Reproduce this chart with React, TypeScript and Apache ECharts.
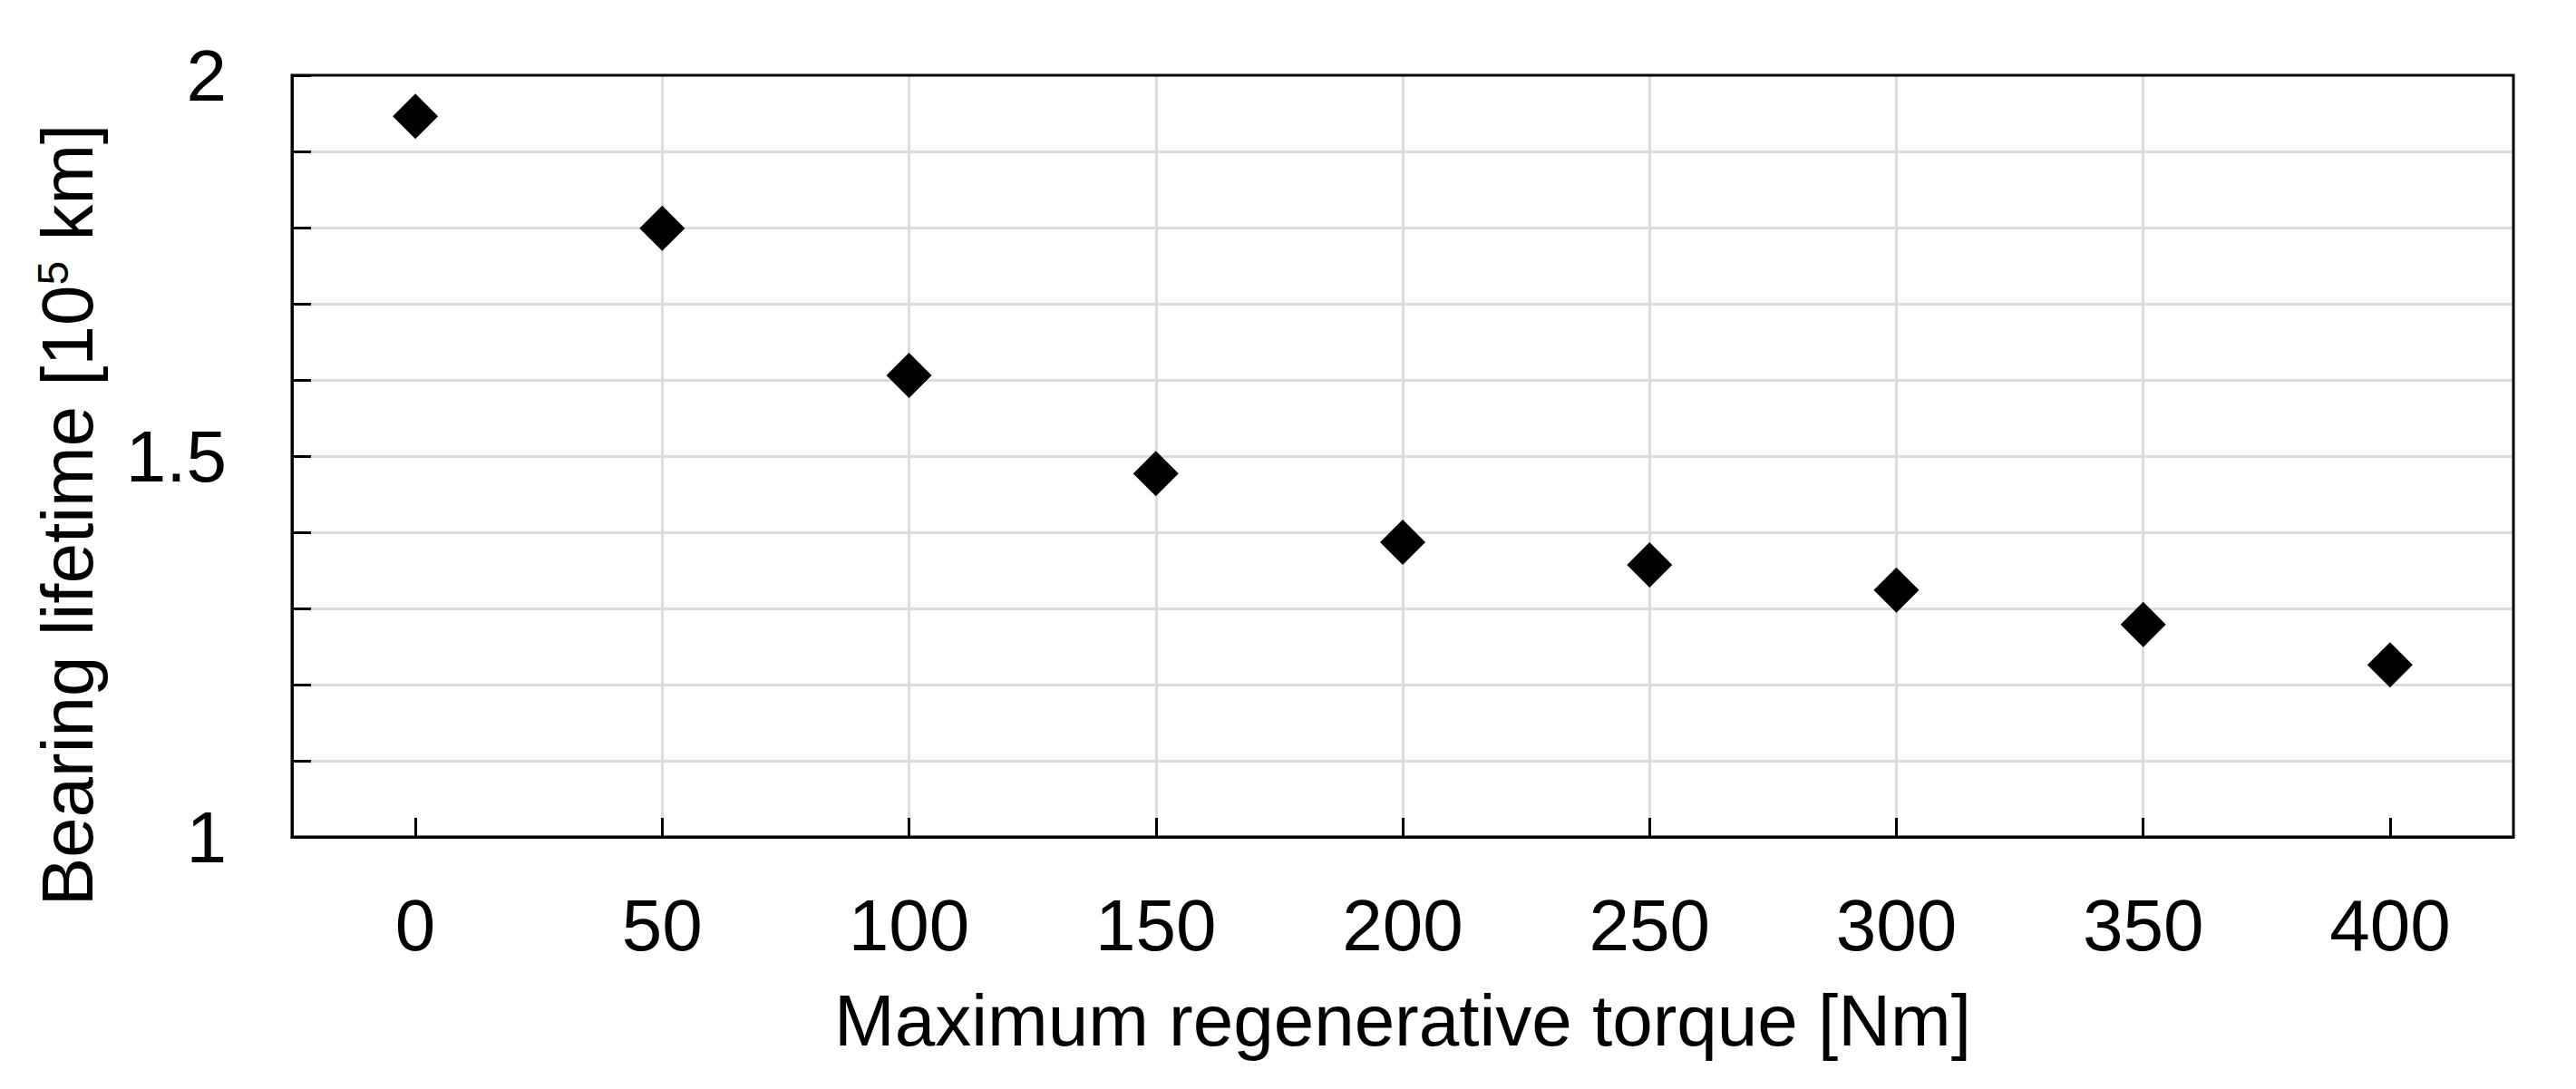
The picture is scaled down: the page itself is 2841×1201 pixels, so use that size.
import React, { useEffect, useRef } from "react";
import * as echarts from "echarts";

const torque = [0, 50, 100, 150, 200, 250, 300, 350, 400];
const lifetime = [1.946, 1.799, 1.606, 1.477, 1.387, 1.357, 1.324, 1.279, 1.226];
const xTickValues = [0, 50, 100, 150, 200, 250, 300, 350, 400];
const yLabelValues = [1, 1.5, 2];

const FONT = '"Liberation Sans", Arial, sans-serif';

export default function App() {
  const ref = useRef<HTMLDivElement>(null);
  useEffect(() => {
    if (!ref.current) return;
    const chart = echarts.init(ref.current, null, { renderer: "svg" });
    chart.setOption({
      animation: false,
      backgroundColor: "#ffffff",
      textStyle: { fontFamily: FONT, color: "#000" },
      grid: {
        left: 322,
        top: 83,
        right: 69,
        bottom: 278,
        show: true,
        borderColor: "#000",
        borderWidth: 3,
        z: 5,
      },
      xAxis: {
        type: "value",
        min: -25,
        max: 425,
        interval: 25,
        name: "Maximum regenerative torque [Nm]",
        nameLocation: "middle",
        nameGap: 162,
        nameTextStyle: { fontSize: 80, color: "#000", fontFamily: FONT },
        axisLine: { show: true, onZero: false, lineStyle: { color: "#000", width: 3 } },
        axisTick: {
          show: true,
          inside: true,
          length: 21,
          customValues: xTickValues,
          lineStyle: { color: "#000", width: 3 },
        },
        axisLabel: {
          show: true,
          customValues: xTickValues,
          fontSize: 80,
          color: "#000",
          fontFamily: FONT,
          margin: 57,
        },
        splitLine: {
          show: true,
          showMinLine: false,
          showMaxLine: false,
          lineStyle: { color: "#dcdcdc", width: 3 },
        },
      },
      yAxis: {
        type: "value",
        min: 1,
        max: 2,
        interval: 0.1,
        name: "{a|Bearing lifetime [10}{s|5}{a| km]}",
        nameLocation: "middle",
        nameGap: 208,
        nameTextStyle: {
          fontSize: 80,
          color: "#000",
          fontFamily: FONT,
          padding: [0, 130, 0, 0],
          rich: {
            a: { fontSize: 80, color: "#000", fontFamily: FONT },
            s: { fontSize: 48, color: "#000", fontFamily: FONT, verticalAlign: "top" },
          },
        },
        axisLine: { show: true, onZero: false, lineStyle: { color: "#000", width: 3 } },
        axisTick: {
          show: true,
          inside: true,
          length: 21,
          lineStyle: { color: "#000", width: 3 },
        },
        axisLabel: {
          show: true,
          customValues: yLabelValues,
          fontSize: 80,
          color: "#000",
          fontFamily: FONT,
          margin: 72,
        },
        splitLine: {
          show: true,
          showMinLine: false,
          showMaxLine: false,
          lineStyle: { color: "#dcdcdc", width: 3 },
        },
      },
      series: [
        {
          type: "scatter",
          data: torque.map((t, i) => [t, lifetime[i]]),
          symbol: "diamond",
          symbolSize: 50,
          itemStyle: { color: "#000", opacity: 1 },
          z: 3,
        },
      ],
    });
    return () => chart.dispose();
  }, []);
  return (
    <div
      ref={ref}
      style={{ position: "fixed", left: 0, top: 0, width: "2841px", height: "1201px", background: "#fff" }}
    />
  );
}
